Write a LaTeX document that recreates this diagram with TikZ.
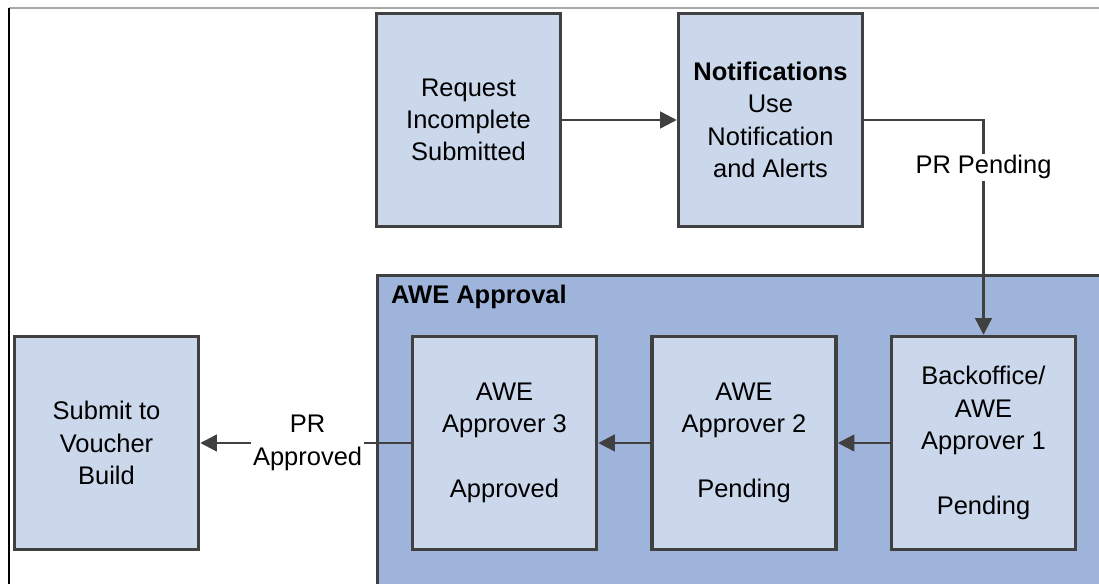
\documentclass[tikz,border=0pt]{standalone}
\usepackage{fontspec}
\setmainfont{Liberation Sans}
\usetikzlibrary{positioning,arrows.meta}
\definecolor{aweframe}{RGB}{64,64,64}
\definecolor{awebox}{RGB}{203,216,235}
\definecolor{awepanel}{RGB}{159,180,218}
\definecolor{aweedge}{RGB}{168,168,168}

\begin{document}
\begin{tikzpicture}[x=0.02cm,y=-0.02cm,
  stepbox/.style={draw=aweframe,fill=awebox,line width=2pt,
    minimum width=3.68cm,minimum height=4.26cm,inner sep=0pt,align=center,
    font=\fontsize{14.5}{18.4}\selectfont},
  flow/.style={draw=aweframe,line width=1.4pt,-{Triangle[length=9.5pt,width=9.5pt]}},
  flowlabel/.style={fill=white,inner sep=1pt,align=center,
    font=\fontsize{14.5}{18.4}\selectfont}]
  \useasboundingbox (0,0) rectangle (1099,584);
  % frame edges of the sheet
  \draw[aweedge,line width=0.6pt] (9,8) -- (1099,8);
  \draw[black,line width=0.9pt] (9,8) -- (9,584);
  % approval panel
  \draw[fill=awepanel,draw=aweframe,line width=2pt] (377.5,275.5) rectangle (1115,600);
  \node[anchor=base west,font=\fontsize{14.5}{18.4}\selectfont\bfseries] (panel) at (385,304) {AWE Approval};
  % steps
  \node[stepbox] (request) at (468.5,120) {Request\\Incomplete\\Submitted};
  \node[stepbox] (notify) at (770.5,120) {\textbf{Notifications}\\Use\\Notification\\and Alerts};
  \node[stepbox] (approver1) at (983.5,443) {Backoffice/\\AWE\\Approver 1\\[18.4pt]Pending};
  \node[stepbox] (approver2) at (744,443) {AWE\\Approver 2\\[18.4pt]Pending};
  \node[stepbox] (approver3) at (504.5,443) {AWE\\Approver 3\\[18.4pt]Approved};
  \node[stepbox] (voucher) at (106.5,443) {Submit to\\Voucher\\Build};
  % connectors
  \draw[flow] (request) -- (notify);
  \draw[flow] (notify.east) -| node[flowlabel,pos=0.61] {PR Pending} (approver1.north);
  \draw[flow] (approver1) -- (approver2);
  \draw[flow] (approver2) -- (approver3);
  \draw[flow] (approver3) -- node[flowlabel,pos=0.49] {PR\\Approved} (voucher);
\end{tikzpicture}
\end{document}
